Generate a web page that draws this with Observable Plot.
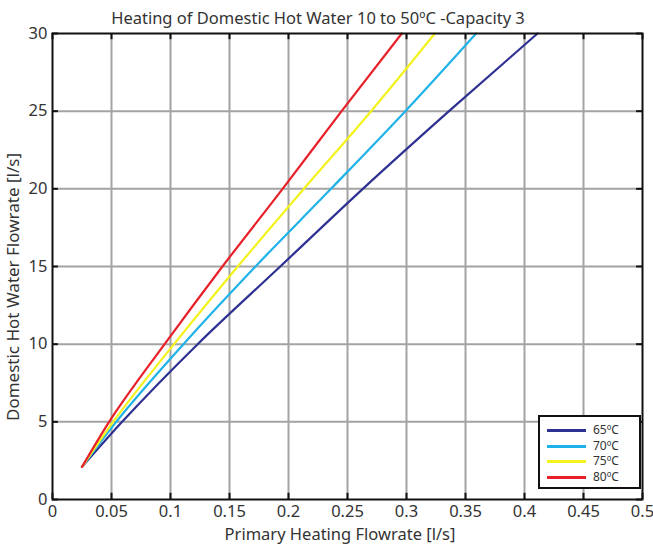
<!DOCTYPE html>
<html>
<head>
<meta charset="utf-8">
<script src="https://cdn.jsdelivr.net/npm/d3@7"></script>
<script src="https://cdn.jsdelivr.net/npm/@observablehq/plot@0.6"></script>
<style>
  html, body { margin: 0; padding: 0; background: #fff; }
  body { width: 653px; height: 544px; position: relative; overflow: hidden; font-family: "Noto Sans", sans-serif; color: #333; }
  #chart { position: absolute; left: 0; top: 0; }
  #title { position: absolute; left: 0; top: 7px; width: 636px; text-align: center; font-size: 16.5px; line-height: 22px; white-space: nowrap; }
  #xlabel { position: absolute; left: 0; top: 525px; width: 680px; text-align: center; font-size: 16.5px; line-height: 17px; white-space: nowrap; }
  #ylabel { position: absolute; left: 13px; top: 287px; font-size: 17px; line-height: 18px; white-space: nowrap; transform: translate(-50%, -50%) rotate(-90deg); }
  #legend { position: absolute; left: 538px; top: 415px; width: 99px; height: 70px; border: 2px solid #111; background: #fff; font-size: 12px; color: #333; }
  #legend .row { position: absolute; left: 7px; height: 14px; }
  #legend .sw { position: absolute; left: 0; top: 6px; width: 39px; height: 3px; }
  #legend .lb { position: absolute; left: 46px; top: -2px; white-space: nowrap; }
</style>
</head>
<body>
<div id="chart"></div>
<div id="title">Heating of Domestic Hot Water 10 to 50ºC -Capacity 3</div>
<div id="xlabel">Primary Heating Flowrate [l/s]</div>
<div id="ylabel">Domestic Hot Water Flowrate [l/s]</div>
<div id="legend"></div>
<script>
// ---- data ----
const series = ["65ºC", "70ºC", "75ºC", "80ºC"];
const colors = ["#2e3192", "#1fb2e8", "#f3f21c", "#e8202a"];
const dhwFlow = [2.1, 5, 10, 15, 20, 25, 30];          // Domestic hot water flowrate [l/s]
const primary65 = [0.025, 0.059, 0.123, 0.193, 0.263, 0.336, 0.411];
const primary70 = [0.025, 0.054, 0.111, 0.172, 0.236, 0.299, 0.359];
const primary75 = [0.025, 0.0514, 0.103, 0.157, 0.213, 0.270, 0.324];
const primary80 = [0.025, 0.048, 0.095, 0.144, 0.195, 0.245, 0.296];
const xTicks = [0, 0.05, 0.1, 0.15, 0.2, 0.25, 0.3, 0.35, 0.4, 0.45, 0.5];
const yTicks = [0, 5, 10, 15, 20, 25, 30];

const primaries = [primary65, primary70, primary75, primary80];
const rows = [];
series.forEach((s, i) => dhwFlow.forEach((y, j) => rows.push({series: s, x: primaries[i][j], y})));

const chart = Plot.plot({
  width: 653,
  height: 544,
  marginTop: 33,
  marginBottom: 45,
  marginLeft: 52,
  marginRight: 11,
  style: {fontFamily: "Noto Sans, sans-serif", fontSize: "16px", color: "#333", background: "transparent", overflow: "visible"},
  x: {domain: [0, 0.5], ticks: xTicks},
  y: {domain: [0, 30], ticks: yTicks},
  color: {domain: series, range: colors},
  marks: [
    Plot.ruleX(xTicks.slice(1, -1), {stroke: "#a3a3a3", strokeWidth: 2}),
    Plot.ruleY(yTicks.slice(1, -1), {stroke: "#a3a3a3", strokeWidth: 2}),
    // inward ticks
    Plot.ruleX(xTicks, {y1: 0, y2: 0.4, stroke: "#111", strokeWidth: 2}),
    Plot.ruleX(xTicks, {y1: 30, y2: 29.6, stroke: "#111", strokeWidth: 2}),
    Plot.ruleY(yTicks, {x1: 0, x2: 0.005, stroke: "#111", strokeWidth: 2}),
    Plot.ruleY(yTicks, {x1: 0.5, x2: 0.495, stroke: "#111", strokeWidth: 2}),
    Plot.line(rows, {x: "x", y: "y", z: "series", stroke: "series", strokeWidth: 2.2, curve: "monotone-y"}),
    Plot.frame({stroke: "#111", strokeWidth: 2}),
    Plot.axisX({ticks: xTicks, tickSize: 0, tickPadding: 6, tickFormat: d => String(d), fontSize: 16.5, label: null}),
    Plot.axisY({ticks: yTicks, tickSize: 0, tickPadding: 5, fontSize: 16.5, label: null})
  ]
});
document.getElementById("chart").appendChild(chart);

// legend
const legend = document.getElementById("legend");
series.forEach((s, i) => {
  const row = document.createElement("div");
  row.className = "row";
  row.style.top = (6 + i * 15.5) + "px";
  row.innerHTML = `<div class="sw" style="background:${colors[i]}"></div><div class="lb">${s}</div>`;
  legend.appendChild(row);
});
</script>
</body>
</html>
